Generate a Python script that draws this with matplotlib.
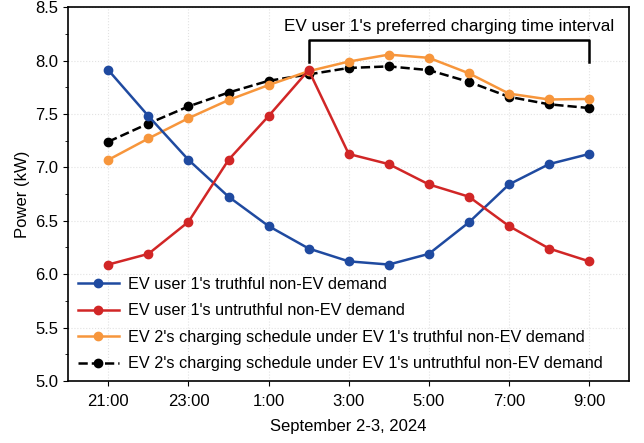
import matplotlib.pyplot as plt
from matplotlib.ticker import MultipleLocator

plt.rcParams['font.family'] = ['Liberation Sans', 'DejaVu Sans']

hours = ['21:00', '22:00', '23:00', '0:00', '1:00', '2:00', '3:00',
         '4:00', '5:00', '6:00', '7:00', '8:00', '9:00']
truthful = [7.91, 7.48, 7.07, 6.725, 6.45, 6.24, 6.12, 6.09, 6.19, 6.485, 6.84, 7.03, 7.125]
untruthful = [6.09, 6.19, 6.49, 7.07, 7.48, 7.91, 7.125, 7.03, 6.84, 6.725, 6.45, 6.24, 6.12]
ev2_truthful = [7.07, 7.27, 7.46, 7.63, 7.77, 7.90, 7.99, 8.055, 8.025, 7.88, 7.69, 7.635, 7.64]
ev2_untruthful = [7.24, 7.41, 7.57, 7.70, 7.81, 7.87, 7.93, 7.945, 7.91, 7.80, 7.66, 7.59, 7.555]

interval_start, interval_end = 5, 12

x = list(range(len(hours)))

fig, ax = plt.subplots(figsize=(6.44, 4.43), dpi=100)

ax.plot(x, truthful, color='#1f4aa0', marker='o', ms=6, lw=1.8, zorder=4,
        label="EV user 1's truthful non-EV demand")
ax.plot(x, untruthful, color='#d12626', marker='o', ms=6, lw=1.8, zorder=5,
        label="EV user 1's untruthful non-EV demand")
ax.plot(x, ev2_truthful, color='#f7963c', marker='o', ms=6, lw=1.8, zorder=3,
        label="EV 2's charging schedule under EV 1's truthful non-EV demand")
ax.plot(x, ev2_untruthful, color='black', marker='o', ms=6, lw=1.8, ls='--', zorder=2,
        label="EV 2's charging schedule under EV 1's untruthful non-EV demand")

# bracket for the preferred interval
ax.plot([interval_start, interval_start, interval_end, interval_end],
        [7.99, 8.19, 8.19, 7.99], color='black', lw=1.8, zorder=6)
ax.text((interval_start + interval_end) / 2, 8.245,
        "EV user 1's preferred charging time interval",
        ha='center', va='bottom', fontsize=12.3)

ax.set_xlim(-1, 13)
ax.set_ylim(5.0, 8.5)
ax.set_xticks(x[::2])
ax.set_xticklabels(hours[::2])
ax.yaxis.set_major_locator(MultipleLocator(0.5))
ax.yaxis.set_minor_locator(MultipleLocator(0.25))
ax.tick_params(labelsize=12)
ax.tick_params(axis='x', pad=6)
ax.grid(True, which='major', color='#e2e2e2', ls=':', lw=0.8)
for s in ax.spines.values():
    s.set_linewidth(1.2)

ax.set_xlabel('September 2-3, 2024', fontsize=12, labelpad=7)
ax.set_ylabel('Power (kW)', fontsize=12)

ax.legend(loc='lower left', frameon=False, fontsize=11.7, handlelength=2.5,
          handletextpad=0.6, borderaxespad=0.2, labelspacing=0.7)

fig.subplots_adjust(left=0.106, right=0.977, top=0.984, bottom=0.14)
fig.savefig('out.png', dpi=100)
